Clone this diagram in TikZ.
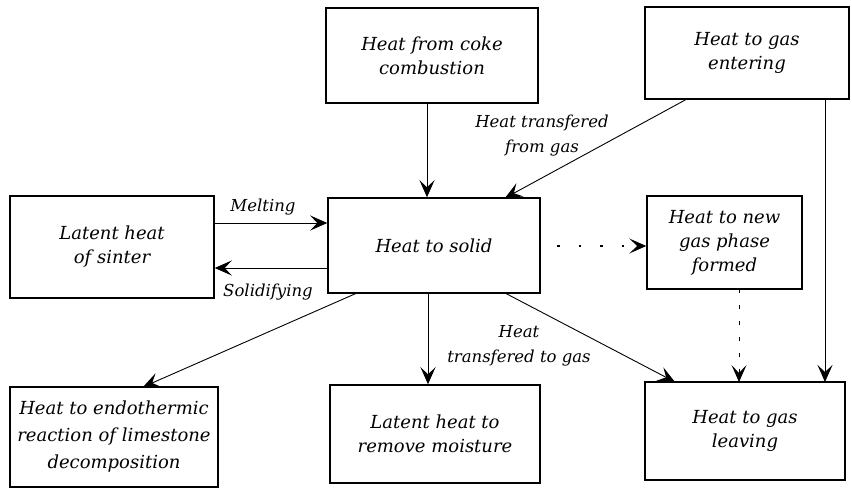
\documentclass[tikz,border=0pt]{standalone}
\usepackage{fontspec}
\setmainfont{DejaVu Serif}
\usetikzlibrary{arrows.meta}
\tikzset{
  box/.style={draw, line width=1.5pt, align=center, inner sep=0pt,
    font=\fontsize{18}{24}\selectfont\itshape},
  lbl/.style={align=center, inner sep=0pt, font=\fontsize{16.5}{25}\selectfont\itshape},
  arr/.style={line width=0.9pt, -{Stealth[length=17pt,width=15pt,inset=7pt]}},
  dotarr/.style={line width=1.6pt, dash pattern=on 2.5pt off 19pt,
    -{Stealth[length=17pt,width=15pt,inset=8pt,line width=0.9pt]}},
  vdotarr/.style={line width=1pt, dash pattern=on 4pt off 12pt,
    -{Stealth[length=17pt,width=15pt,inset=8pt,line width=0.9pt]}}
}
\begin{document}
\begin{tikzpicture}[x=1pt,y=-1pt]
\useasboundingbox (0,0) rectangle (852,490);
% boxes
\node[box, minimum width=212pt, minimum height=95pt] (coke) at (432,55.5) {Heat from coke\\combustion};
\node[box, minimum width=204pt, minimum height=92pt] (gasin) at (747,53) {Heat to gas\\entering};
\node[box, minimum width=204pt, minimum height=102pt] (sinter) at (112,247) {Latent heat\\of sinter};
\node[box, minimum width=212pt, minimum height=95pt] (solid) at (434,245.5) {Heat to solid};
\node[box, minimum width=155pt, minimum height=93pt] (newgas) at (724.5,242.5) {Heat to new\\gas phase\\formed};
\node[box, minimum width=208pt, minimum height=100pt, font=\fontsize{18}{27}\selectfont\itshape] (endo) at (114,437) {Heat to endothermic\\reaction of limestone\\decomposition};
\node[box, minimum width=210pt, minimum height=98pt] (moist) at (435,434) {Latent heat to\\remove moisture};
\node[box, minimum width=200pt, minimum height=98pt] (gasout) at (745,431) {Heat to gas\\leaving};
% helper coordinates
\coordinate (gi1) at (687,99);
\coordinate (so1) at (505,198);
\coordinate (gi2) at (825,99);
\coordinate (go2) at (825,382);
\coordinate (sb1) at (357,293);
\coordinate (en1) at (143,387);
\coordinate (sb3) at (505,293);
\coordinate (go1) at (675,382);
\coordinate (ng1) at (739,289);
\coordinate (go3) at (739,382);
% connectors
\draw[arr] (coke.south -| 427,0) -- (solid.north -| 427,0);
\draw[arr] (gi1) -- (so1);
\draw[arr] (sinter.east |- 0,223) -- (solid.west |- 0,223);
\draw[arr] (solid.west |- 0,268) -- (sinter.east |- 0,268);
\draw[dotarr] (557,246) -- (newgas.west |- 0,246);
\draw[arr] (sb1) -- (en1);
\draw[arr] (solid.south -| 428,0) -- (moist.north -| 428,0);
\draw[arr] (sb3) -- (go1);
\draw[vdotarr] (ng1) -- (go3);
\draw[arr] (gi2) -- (go2);
% labels
\node[lbl] (melt) at (263,207) {Melting};
\node[lbl] (solidify) at (268,292) {Solidifying};
\node[lbl] (tfrom) at (542,136) {Heat transfered\\from gas};
\node[lbl] (tto) at (519,346) {Heat\\transfered to gas};
\end{tikzpicture}
\end{document}
